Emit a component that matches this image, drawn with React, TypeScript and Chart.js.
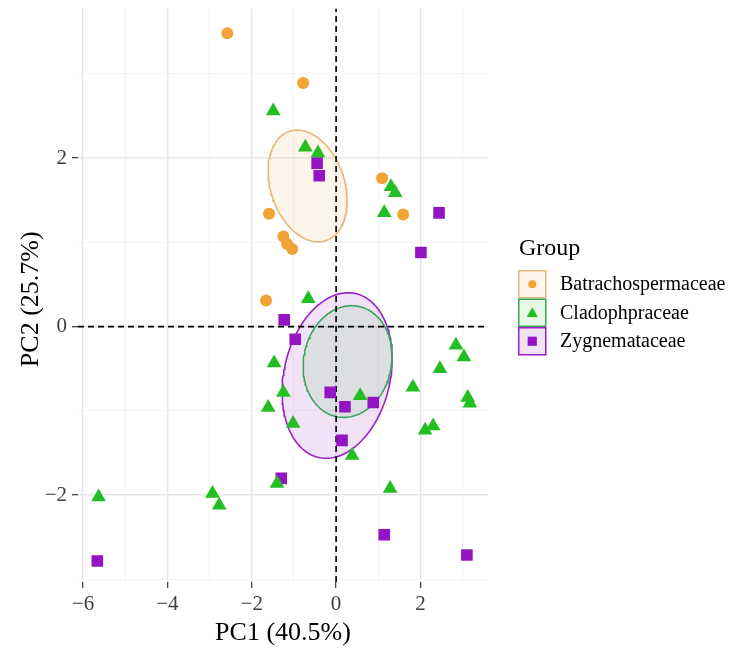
import React, { useEffect, useRef } from 'react';
import { Chart, registerables } from 'chart.js';

Chart.register(...registerables);

const groups = ['Batrachospermaceae', 'Cladophpraceae', 'Zygnemataceae'];

const batraX = [-2.58, -0.78, 1.09, 1.59, -1.59, -1.25, -1.16, -1.04, -1.66];
const batraY = [3.48, 2.89, 1.76, 1.33, 1.34, 1.07, 0.98, 0.92, 0.31];

const cladoX = [-1.49, -0.73, -0.43, 1.30, 1.40, 1.14, -0.66, -1.47, -1.25, -1.61, -1.02, -1.40, -5.63, -2.93, -2.77, 0.57, 0.38, 1.28, 1.82, 2.46, 2.84, 3.03, 3.12, 3.17, 2.30, 2.11];
const cladoY = [2.56, 2.13, 2.06, 1.66, 1.59, 1.35, 0.33, -0.43, -0.78, -0.96, -1.15, -1.86, -2.02, -1.98, -2.12, -0.82, -1.53, -1.92, -0.72, -0.50, -0.22, -0.36, -0.84, -0.91, -1.18, -1.23];

const zygX = [-0.45, -0.40, 2.44, 2.01, -1.23, -0.97, -0.14, 0.21, 0.88, 0.14, -1.30, 1.14, 3.10, -5.66];
const zygY = [1.94, 1.79, 1.35, 0.88, 0.08, -0.15, -0.78, -0.95, -0.90, -1.35, -1.80, -2.47, -2.71, -2.78];

// confidence ellipses: centre and conjugate half-axes (data units)
const ellipseCX = [-0.675, 0.273, 0.024];
const ellipseCY = [1.669, -0.414, -0.58];
const ellipseUX = [-0.249, 0.095, 0.261];
const ellipseUY = [0.663, 0.663, 0.982];
const ellipseVX = [0.903, 1.05, 1.277];

const xTickValues = [-6, -5, -4, -3, -2, -1, 0, 1, 2, 3];
const yTickValues = [-3, -2, -1, 0, 1, 2, 3];
const xRange = [-6.118, 3.6];
const yRange = [-3.03, 3.775];

const xTitle = 'PC1 (40.5%)';
const yTitle = 'PC2 (25.7%)';
const legendTitle = 'Group';

const pointColors = ['#F2A336', '#22BE22', '#9414C4'];
const pointStyles = ['circle', 'triangle', 'rect'];
const pointRadii = [6, 8.5, 8.2];
const ellipseLine = ['#E6B57A', '#3AA65A', '#9A20C8'];
const ellipseFill = ['rgba(245,165,60,0.11)', 'rgba(34,190,34,0.11)', 'rgba(150,20,196,0.12)'];

const FONT = '"Liberation Serif", "DejaVu Serif", serif';

function zip(xs: number[], ys: number[]) {
  return xs.map((x, i) => ({ x, y: ys[i] }));
}

function ellipsePoints(i: number) {
  const pts: { x: number; y: number }[] = [];
  const n = 160;
  for (let k = 0; k <= n; k++) {
    const t = (2 * Math.PI * k) / n;
    pts.push({
      x: ellipseCX[i] + ellipseUX[i] * Math.cos(t) + ellipseVX[i] * Math.sin(t),
      y: ellipseCY[i] + ellipseUY[i] * Math.cos(t),
    });
  }
  return pts;
}

function fmt(v: number) {
  return v < 0 ? '\u2212' + Math.abs(v) : String(v);
}

function drawShape(ctx: CanvasRenderingContext2D, style: string, x: number, y: number, r: number) {
  ctx.beginPath();
  if (style === 'circle') {
    ctx.arc(x, y, r, 0, Math.PI * 2);
  } else if (style === 'triangle') {
    for (let k = 0; k < 3; k++) {
      const a = (k * 2 * Math.PI) / 3;
      const px = x + Math.sin(a) * r;
      const py = y - Math.cos(a) * r;
      if (k === 0) ctx.moveTo(px, py);
      else ctx.lineTo(px, py);
    }
    ctx.closePath();
  } else {
    const s = r * Math.SQRT1_2;
    ctx.rect(x - s, y - s, 2 * s, 2 * s);
  }
  ctx.fill();
}

const annotationPlugin = {
  id: 'pcaAnnotations',
  afterDraw(chart: any) {
    const ctx = chart.ctx as CanvasRenderingContext2D;
    const area = chart.chartArea;
    ctx.save();
    ctx.fillStyle = '#000';
    ctx.font = `26px ${FONT}`;
    ctx.textAlign = 'center';
    ctx.textBaseline = 'alphabetic';
    ctx.fillText(xTitle, (area.left + area.right) / 2, 640);
    ctx.save();
    ctx.translate(38, (area.top + area.bottom) / 2 + 4);
    ctx.rotate(-Math.PI / 2);
    ctx.fillText(yTitle, 0, 0);
    ctx.restore();

    // legend
    ctx.textAlign = 'left';
    ctx.font = `24px ${FONT}`;
    ctx.fillText(legendTitle, 519, 255);
    const boxX = 518;
    const boxSize = 28.5;
    const legendRadii = [4, 6.5, 6.5];
    ctx.font = `20px ${FONT}`;
    groups.forEach((g, i) => {
      const y0 = 270 + i * boxSize;
      ctx.fillStyle = '#fff';
      ctx.fillRect(boxX, y0, boxSize, boxSize);
      ctx.fillStyle = ellipseFill[i];
      ctx.fillRect(boxX, y0, boxSize, boxSize);
      ctx.strokeStyle = ellipseLine[i];
      ctx.lineWidth = 1.5;
      ctx.strokeRect(boxX + 0.75, y0 + 0.75, boxSize - 1.5, boxSize - 1.5);
      ctx.fillStyle = pointColors[i];
      drawShape(ctx, pointStyles[i], boxX + boxSize / 2, y0 + boxSize / 2 + (i === 1 ? 1 : 0), legendRadii[i]);
      ctx.fillStyle = '#000';
      ctx.fillText(g, 560, y0 + boxSize / 2 + 6);
    });
    ctx.restore();
  },
};

export default function App() {
  const canvasRef = useRef<HTMLCanvasElement | null>(null);

  useEffect(() => {
    if (!canvasRef.current) return;
    const seriesX = [batraX, cladoX, zygX];
    const seriesY = [batraY, cladoY, zygY];

    const pointSets = groups.map((g, i) => ({
      label: g,
      type: 'scatter' as const,
      data: zip(seriesX[i], seriesY[i]),
      pointStyle: pointStyles[i],
      pointRadius: pointRadii[i],
      backgroundColor: pointColors[i],
      borderWidth: 0,
      showLine: false,
      order: 0,
    }));

    const ellipseSets = groups.map((g, i) => ({
      label: g + ' ellipse',
      type: 'scatter' as const,
      data: ellipsePoints(i),
      showLine: true,
      pointRadius: 0,
      borderColor: ellipseLine[i],
      borderWidth: 1.6,
      backgroundColor: ellipseFill[i],
      fill: 'shape',
      tension: 0,
      order: 2,
    }));

    const refLines = [
      {
        label: 'v0',
        type: 'scatter' as const,
        data: [{ x: 0, y: yRange[0] }, { x: 0, y: yRange[1] }],
        showLine: true,
        pointRadius: 0,
        borderColor: '#000',
        borderWidth: 1.6,
        borderDash: [6, 4],
        fill: false,
        order: 1,
      },
      {
        label: 'h0',
        type: 'scatter' as const,
        data: [{ x: xRange[0], y: 0 }, { x: xRange[1], y: 0 }],
        showLine: true,
        pointRadius: 0,
        borderColor: '#000',
        borderWidth: 1.6,
        borderDash: [6, 4],
        fill: false,
        order: 1,
      },
    ];

    const gridColor = (c: any) => (c.tick && Math.abs(c.tick.value % 2) === 0 ? '#e6e6e6' : '#f2f2f2');
    const gridWidth = (c: any) => (c.tick && Math.abs(c.tick.value % 2) === 0 ? 1.4 : 0.8);
    const tickColor = (c: any) => (c.tick && Math.abs(c.tick.value % 2) === 0 ? '#333333' : 'rgba(0,0,0,0)');

    const chart = new Chart(canvasRef.current, {
      type: 'scatter',
      data: { datasets: [...pointSets, ...refLines, ...ellipseSets] as any },
      options: {
        animation: false,
        responsive: false,
        devicePixelRatio: 1,
        events: [],
        layout: { padding: { top: 7, right: 245, bottom: 0, left: 0 } },
        plugins: {
          legend: { display: false },
          tooltip: { enabled: false },
        },
        scales: {
          x: {
            type: 'linear',
            min: xRange[0],
            max: xRange[1],
            afterBuildTicks: (s: any) => {
              s.ticks = xTickValues.map((v) => ({ value: v }));
            },
            afterFit: (s: any) => {
              s.height = 66;
              s.paddingLeft = 0;
              s.paddingRight = 0;
            },
            border: { display: false },
            grid: {
              color: gridColor,
              lineWidth: gridWidth,
              tickColor: tickColor,
              tickLength: 6,
              tickWidth: 1.2,
            },
            ticks: {
              autoSkip: false,
              maxRotation: 0,
              padding: 4,
              color: '#3d3d3d',
              font: { family: FONT, size: 21 },
              callback: (v: any) => (Number(v) % 2 === 0 ? fmt(Number(v)) : ''),
            },
          },
          y: {
            type: 'linear',
            min: yRange[0],
            max: yRange[1],
            afterBuildTicks: (s: any) => {
              s.ticks = yTickValues.map((v) => ({ value: v }));
            },
            afterFit: (s: any) => {
              s.width = 78;
              s.paddingTop = 0;
              s.paddingBottom = 0;
            },
            border: { display: false },
            grid: {
              color: gridColor,
              lineWidth: gridWidth,
              tickColor: tickColor,
              tickLength: 6,
              tickWidth: 1.2,
            },
            ticks: {
              autoSkip: false,
              padding: 5,
              color: '#3d3d3d',
              font: { family: FONT, size: 21 },
              callback: (v: any) => (Number(v) % 2 === 0 ? fmt(Number(v)) : ''),
            },
          },
        },
      },
      plugins: [annotationPlugin],
    } as any);

    return () => {
      chart.destroy();
    };
  }, []);

  return (
    <div style={{ position: 'fixed', left: 0, top: 0, width: 733, height: 648, background: '#fff' }}>
      <canvas ref={canvasRef} width={733} height={648} style={{ width: 733, height: 648, display: 'block' }} />
    </div>
  );
}
